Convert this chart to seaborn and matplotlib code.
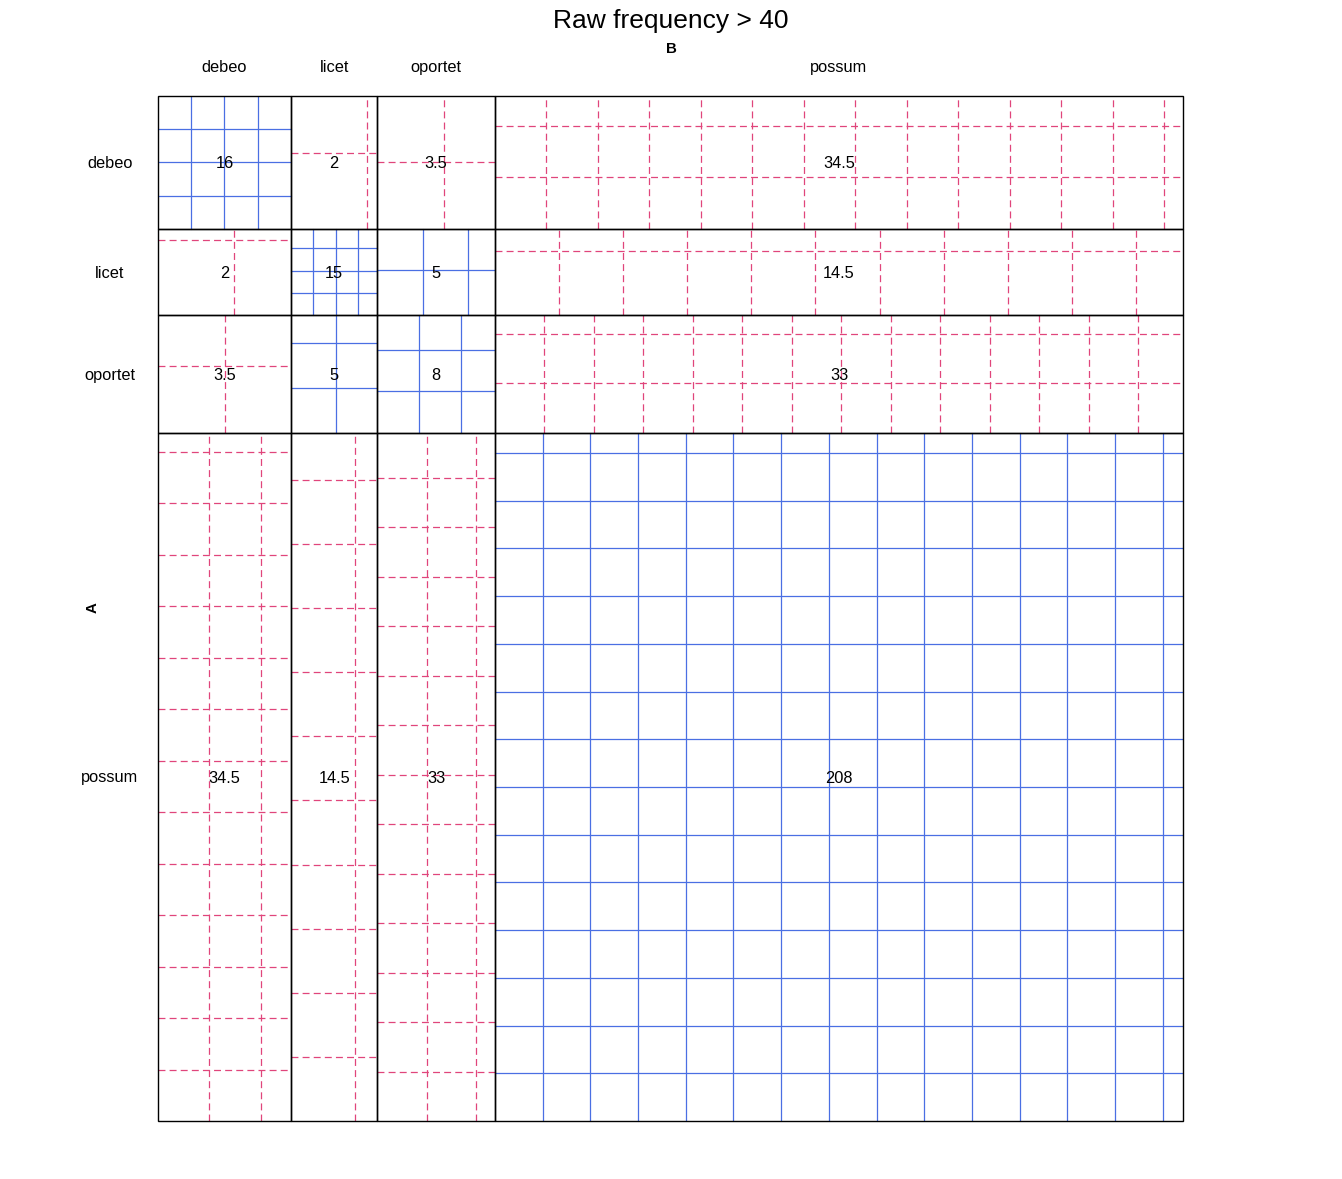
import numpy as np
import pandas as pd
import matplotlib
matplotlib.use("Agg")
import matplotlib.pyplot as plt
import seaborn as sns

# Données : table symétrique des fréquences
labels = ["debeo", "licet", "oportet", "possum"]
freq_debeo = [16, 2, 3.5, 34.5]
freq_licet = [2, 15, 5, 14.5]
freq_oportet = [3.5, 5, 8, 33]
freq_possum = [34.5, 14.5, 33, 208]

obs = np.array([freq_debeo, freq_licet, freq_oportet, freq_possum], dtype=float)
row_tot = obs.sum(axis=1)
col_tot = obs.sum(axis=0)
total = obs.sum()
expected = np.outer(row_tot, col_tot) / total

sns.set_theme(style="white")
plt.rcParams['font.family'] = ['Liberation Sans', 'DejaVu Sans']
plt.rcParams['lines.scale_dashes'] = False
plt.rcParams['text.color'] = 'black'

BLUE = "#4A6FE3"
RED = "#E0457B"
FS = 11.8

# bornes des cellules (x de gauche à droite, y de haut en bas)
x_edges = np.concatenate([[0], np.cumsum(col_tot)])
y_edges = total - np.concatenate([[0], np.cumsum(row_tot)])

segs = []
seg_id = 0
for i in range(len(labels)):
    for j in range(len(labels)):
        left, right = x_edges[j], x_edges[j + 1]
        top, bottom = y_edges[i], y_edges[i + 1]
        w, h = right - left, top - bottom
        s = np.sqrt(w * h / obs[i, j])
        sign = "pos" if obs[i, j] > expected[i, j] else "neg"
        k = 1
        while left + k * s < right - 1e-6:
            xx = left + k * s
            segs.append((seg_id, xx, bottom, sign))
            segs.append((seg_id, xx, top, sign))
            seg_id += 1
            k += 1
        k = 1
        while bottom + k * s < top - 1e-6:
            yy = bottom + k * s
            segs.append((seg_id, left, yy, sign))
            segs.append((seg_id, right, yy, sign))
            seg_id += 1
            k += 1

df = pd.DataFrame(segs, columns=["seg", "x", "y", "sign"])

W, H = 1342, 1179
fig = plt.figure(figsize=(W / 100, H / 100), dpi=100)
ax = fig.add_axes([158 / W, 58 / H, 1025 / W, 1025 / H])

sns.lineplot(data=df, x="x", y="y", units="seg", estimator=None, sort=False,
             hue="sign", palette={"pos": BLUE, "neg": RED},
             style="sign", dashes={"pos": "", "neg": (5, 3)},
             linewidth=0.9, legend=False, ax=ax)

# contours des cellules et valeurs
dy = 1.5 / 1025 * total
for i in range(len(labels)):
    for j in range(len(labels)):
        left, right = x_edges[j], x_edges[j + 1]
        top, bottom = y_edges[i], y_edges[i + 1]
        ax.add_patch(plt.Rectangle((left, bottom), right - left, top - bottom,
                                   fill=False, edgecolor="black", linewidth=1.0,
                                   zorder=3, clip_on=False))
        txt = f"{obs[i, j]:g}"
        ax.text((left + right) / 2, (top + bottom) / 2 - dy, txt, ha="center", va="center",
                fontsize=FS, color="black", zorder=4)

ax.set_xlim(0, total)
ax.set_ylim(0, total)
ax.axis("off")

# étiquettes des colonnes et lignes
for j, lab in enumerate(labels):
    xc = (x_edges[j] + x_edges[j + 1]) / 2
    xf = (158 + xc / total * 1025) / W
    fig.text(xf, 1 - 72 / H, lab, ha="center", va="baseline", fontsize=FS)
for i, lab in enumerate(labels):
    yc = (y_edges[i] + y_edges[i + 1]) / 2
    yf = (58 + yc / total * 1025) / H - 5.5 / H
    fig.text(110 / W, yf, lab, ha="center", va="baseline", fontsize=FS)

fig.text(671 / W, 1 - 21 / H, "Raw frequency > 40", ha="center", va="center", fontsize=19)
fig.text(671 / W, 1 - 49 / H, "B", ha="center", va="center", fontsize=10.8, fontweight="bold")
fig.text(93 / W, 1 - 608 / H, "A", ha="center", va="center", fontsize=10.8,
         fontweight="bold", rotation=90)

fig.savefig("out.png", dpi=100, facecolor="white")
